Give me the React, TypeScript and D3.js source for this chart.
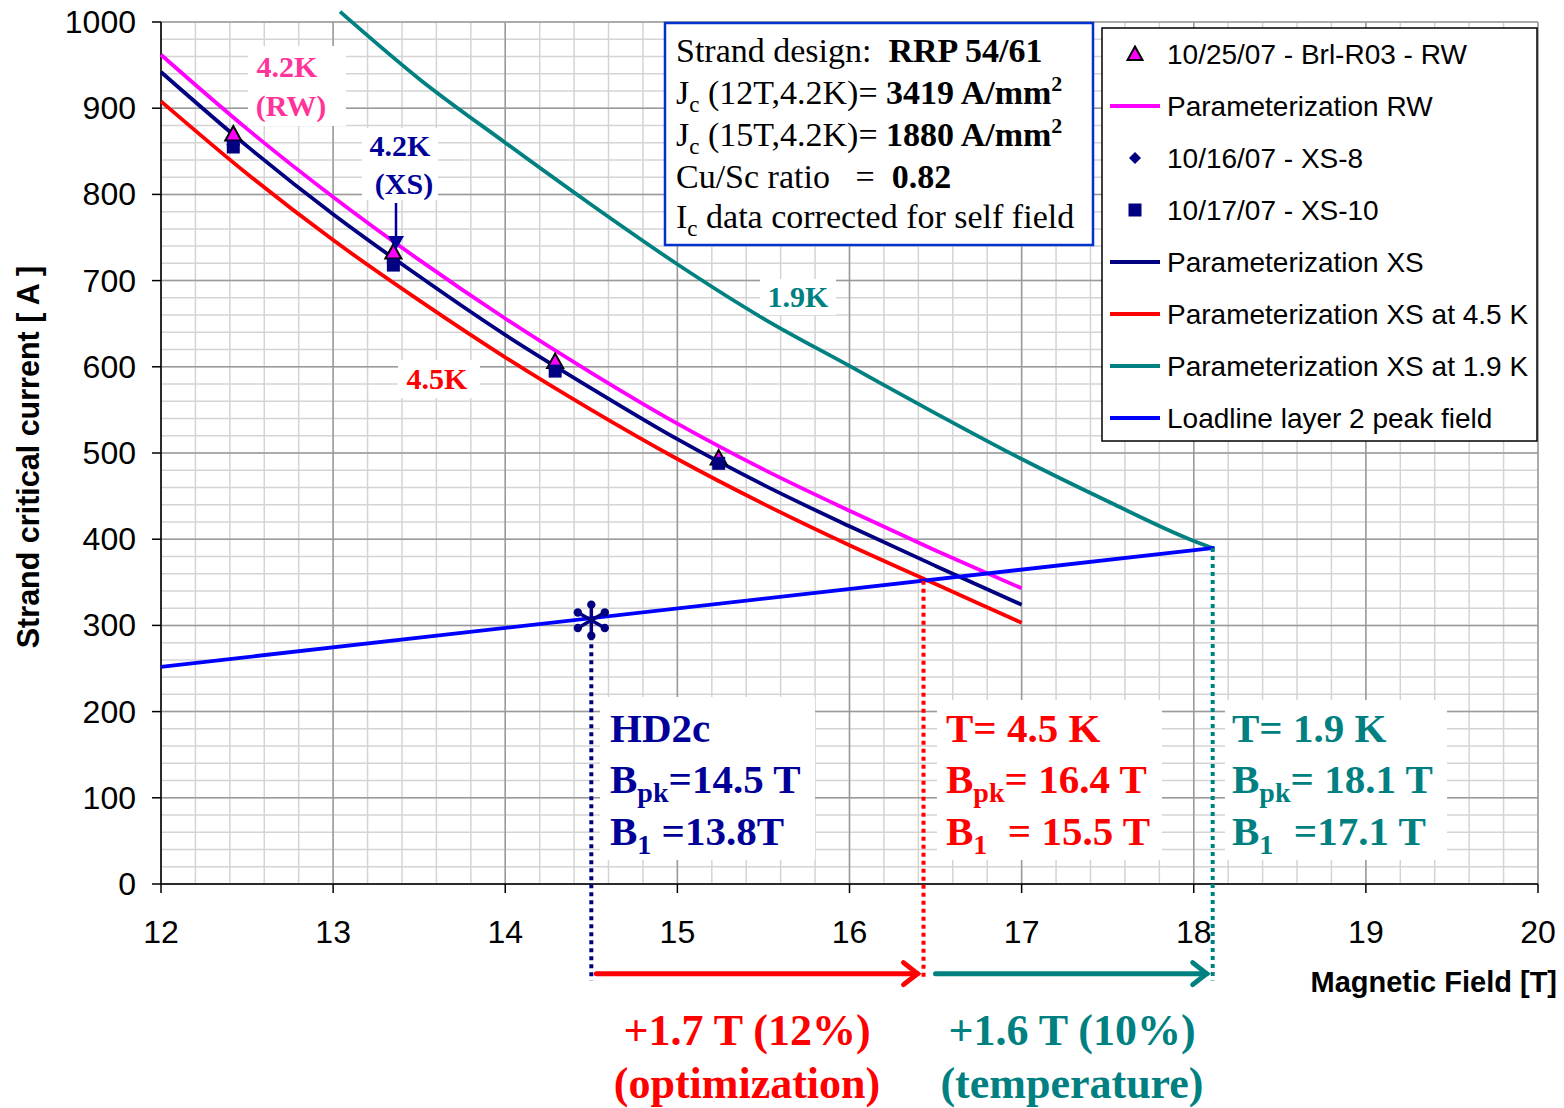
import React from 'react';
import * as d3 from 'd3';

// ---- data ----
const paramField = [12, 12.5, 13, 13.5, 14, 14.5, 15, 15.5, 16, 16.5, 17];
const paramRW = [962, 876, 797, 724, 656, 593, 534, 481, 433, 387, 343];
const paramXS = [942, 856, 777, 705, 637, 575, 516, 463, 415, 369, 324];
const paramXS45 = [908, 824, 747, 677, 611, 550, 493, 441, 393, 348, 303];
const field19 = [13.04, 13.5, 14, 14.5, 15, 15.5, 16, 16.5, 17, 17.5, 18, 18.12];
const paramXS19 = [1012, 934, 860, 788, 719, 656, 601, 546, 493, 444, 398, 389];
const loadField = [12, 18.12];
const loadIc = [252, 390];
const dataField = [12.42, 13.35, 14.29, 15.24];
const rwIc = [870, 733, 606, 494];
const xs8Ic = [858, 721, 598, 490];
const xs10Ic = [855, 718, 595, 488];
const xTicks = [12, 13, 14, 15, 16, 17, 18, 19, 20];
const yTicks = [0, 100, 200, 300, 400, 500, 600, 700, 800, 900, 1000];
const hd2cPoint = { b: 14.5, ic: 306 };
const opt45Field = 16.43;
const opt19Field = 18.11;
const legendItems = [
  { label: '10/25/07 - Brl-R03 - RW', kind: 'tri' },
  { label: 'Parameterization RW', kind: 'line', color: '#FF00FF' },
  { label: '10/16/07 - XS-8', kind: 'diamond' },
  { label: '10/17/07 - XS-10', kind: 'square' },
  { label: 'Parameterization XS', kind: 'line', color: '#000080' },
  { label: 'Parameterization XS at 4.5 K', kind: 'line', color: '#FF0000' },
  { label: 'Parameterization XS at 1.9 K', kind: 'line', color: '#008080' },
  { label: 'Loadline layer 2 peak field', kind: 'line', color: '#0000FF' },
];

const NAVY = '#000080';
const DNAVY = '#000099';
const RED = '#FF0000';
const TEAL = '#008080';
const PINK = '#FF3399';
const SANS = 'Liberation Sans, Arial, sans-serif';
const SERIF = 'Liberation Serif, Times New Roman, serif';

export default function App() {
  const x = d3.scaleLinear().domain([12, 20]).range([161, 1538]);
  const y = d3.scaleLinear().domain([0, 1000]).range([884, 22]);
  const line = d3
    .line<[number, number]>()
    .x((d) => x(d[0]))
    .y((d) => y(d[1]))
    .curve(d3.curveMonotoneX);
  const zip = (a: number[], b: number[]) => a.map((v, i) => [v, b[i]] as [number, number]);

  const minorX = d3.range(12, 20.001, 0.2);
  const minorY = d3.range(0, 1000.001, 20);

  const tri = (cx: number, cy: number, s = 8) =>
    `M${cx},${cy - s} L${cx + s},${cy + s * 0.8} L${cx - s},${cy + s * 0.8} Z`;

  const loadAt = (b: number) => loadIc[0] + ((b - loadField[0]) * (loadIc[1] - loadIc[0])) / (loadField[1] - loadField[0]);

  const starX = x(hd2cPoint.b);
  const starY = y(hd2cPoint.ic);
  const arrowY = y(-104);
  const dotBottom = y(-112);

  const Star = () => {
    const r = 19;
    const angles = [90, 30, -30];
    return (
      <g>
        {angles.map((a) => {
          const dx = r * Math.cos((a * Math.PI) / 180);
          const dy = r * Math.sin((a * Math.PI) / 180);
          return (
            <g key={a}>
              <line x1={starX - dx} y1={starY - dy} x2={starX + dx} y2={starY + dy} stroke={NAVY} strokeWidth={3.5} />
              <circle cx={starX - dx * 0.82} cy={starY - dy * 0.82} r={4.2} fill={NAVY} />
              <circle cx={starX + dx * 0.82} cy={starY + dy * 0.82} r={4.2} fill={NAVY} />
            </g>
          );
        })}
      </g>
    );
  };

  const Arrow = ({ x1, x2, yy, color }: { x1: number; x2: number; yy: number; color: string }) => (
    <g stroke={color} strokeWidth={5} fill="none" strokeLinecap="round">
      <line x1={x1} y1={yy} x2={x2} y2={yy} />
      <polyline points={`${x2 - 14},${yy - 11} ${x2},${yy} ${x2 - 14},${yy + 11}`} />
    </g>
  );

  const legendX = 1102;
  const legendY = 28;

  return (
    <svg width={1564} height={1108} style={{ position: 'absolute', left: 0, top: 0 }} xmlns="http://www.w3.org/2000/svg">
      <rect x={0} y={0} width={1564} height={1108} fill="#fff" />
      {/* grid */}
      {minorX.map((v, i) => (
        <line key={'gx' + i} x1={x(v)} x2={x(v)} y1={y(1000)} y2={y(0)} stroke="#D4D4D4" strokeWidth={1.5} />
      ))}
      {minorY.map((v, i) => (
        <line key={'gy' + i} x1={x(12)} x2={x(20)} y1={y(v)} y2={y(v)} stroke="#D4D4D4" strokeWidth={1.5} />
      ))}
      {xTicks.map((v) => (
        <line key={'Gx' + v} x1={x(v)} x2={x(v)} y1={y(1000)} y2={y(0)} stroke="#9A9A9A" strokeWidth={1.5} />
      ))}
      {yTicks.map((v) => (
        <line key={'Gy' + v} x1={x(12)} x2={x(20)} y1={y(v)} y2={y(v)} stroke="#9A9A9A" strokeWidth={1.5} />
      ))}

      {/* axes */}
      <line x1={x(12)} x2={x(20)} y1={y(0)} y2={y(0)} stroke="#000" strokeWidth={1.5} />
      <line x1={x(12)} x2={x(12)} y1={y(0)} y2={y(1000)} stroke="#000" strokeWidth={1.5} />
      {xTicks.map((v) => (
        <g key={'xt' + v}>
          <line x1={x(v)} x2={x(v)} y1={y(0)} y2={y(0) + 9} stroke="#000" strokeWidth={1.5} />
          <text x={x(v)} y={943} fontSize={32} fontFamily={SANS} textAnchor="middle">{v}</text>
        </g>
      ))}
      {yTicks.map((v) => (
        <g key={'yt' + v}>
          <line x1={x(12) - 9} x2={x(12)} y1={y(v)} y2={y(v)} stroke="#000" strokeWidth={1.5} />
          <text x={136} y={y(v) + 11} fontSize={32} fontFamily={SANS} textAnchor="end">{v}</text>
        </g>
      ))}
      <text transform="translate(39,457) rotate(-90)" fontSize={30.5} fontWeight="bold" fontFamily={SANS} textAnchor="middle">
        Strand critical current [ A ]
      </text>
      <text x={1557} y={992} fontSize={29} fontWeight="bold" fontFamily={SANS} textAnchor="end">Magnetic Field [T]</text>

      {/* curves */}
      <path d={line(zip(field19, paramXS19)) || ''} fill="none" stroke={TEAL} strokeWidth={3.8} />
      <path d={line(zip(paramField, paramXS45)) || ''} fill="none" stroke={RED} strokeWidth={3.8} />
      <path d={line(zip(paramField, paramXS)) || ''} fill="none" stroke={NAVY} strokeWidth={3.8} />
      <path d={line(zip(paramField, paramRW)) || ''} fill="none" stroke="#FF00FF" strokeWidth={3.8} />
      <path d={line(zip(loadField, loadIc)) || ''} fill="none" stroke="#0000FF" strokeWidth={3.8} />

      {/* data points */}
      {dataField.map((b, i) => (
        <path key={'d8' + i} d={`M${x(b)},${y(xs8Ic[i]) - 7} l7,7 l-7,7 l-7,-7 Z`} fill={NAVY} />
      ))}
      {dataField.map((b, i) => (
        <path key={'tr' + i} d={tri(x(b), y(rwIc[i]))} fill="#FF00FF" stroke="#000" strokeWidth={2} />
      ))}
      {dataField.map((b, i) => (
        <rect key={'sq' + i} x={x(b) - 6.5} y={y(xs10Ic[i]) - 6.5} width={13} height={13} fill={NAVY} />
      ))}

      {/* dotted verticals */}
      <line x1={starX} x2={starX} y1={starY + 16} y2={dotBottom} stroke={NAVY} strokeWidth={4} strokeDasharray="4 4" />
      <line x1={x(opt45Field)} x2={x(opt45Field)} y1={y(loadAt(opt45Field))} y2={dotBottom} stroke={RED} strokeWidth={4} strokeDasharray="4 4" />
      <line x1={x(opt19Field)} x2={x(opt19Field)} y1={y(loadAt(opt19Field))} y2={dotBottom} stroke={TEAL} strokeWidth={4} strokeDasharray="4 4" />
      <Star />

      {/* arrows */}
      <Arrow x1={starX + 5} x2={x(opt45Field) - 6} yy={arrowY} color={RED} />
      <Arrow x1={x(opt45Field) + 12} x2={x(opt19Field) - 6} yy={arrowY} color={TEAL} />

      {/* curve labels */}
      <rect x={248} y={46} width={98} height={80} fill="#fff" />
      <text x={287} y={77} fontSize={30} fontWeight="bold" fontFamily={SERIF} fill={PINK} textAnchor="middle">4.2K</text>
      <text x={291} y={116} fontSize={30} fontWeight="bold" fontFamily={SERIF} fill={PINK} textAnchor="middle">(RW)</text>

      <rect x={362} y={128} width={76} height={72} fill="#fff" />
      <text x={400} y={156} fontSize={30} fontWeight="bold" fontFamily={SERIF} fill={DNAVY} textAnchor="middle">4.2K</text>
      <text x={404} y={194} fontSize={30} fontWeight="bold" fontFamily={SERIF} fill={DNAVY} textAnchor="middle">(XS)</text>
      <line x1={396} x2={396} y1={203} y2={238} stroke={DNAVY} strokeWidth={2.5} />
      <path d="M388,236 L404,236 L396,250 Z" fill={DNAVY} />

      <rect x={398} y={360} width={82} height={38} fill="#fff" />
      <text x={437} y={389} fontSize={30} fontWeight="bold" fontFamily={SERIF} fill={RED} textAnchor="middle">4.5K</text>

      <rect x={760} y={279} width={76} height={36} fill="#fff" />
      <text x={798} y={307} fontSize={30} fontWeight="bold" fontFamily={SERIF} fill={TEAL} textAnchor="middle">1.9K</text>

      {/* info box */}
      <rect x={665} y={23} width={428} height={222} fill="#fff" stroke="#0033CC" strokeWidth={2.5} />
      <g fontFamily={SERIF} fontSize={34} fill="#000">
        <text x={676} y={62}>
          Strand design:{'\u00A0\u00A0'}<tspan fontWeight="bold">RRP 54/61</tspan>
        </text>
        <text x={676} y={104}>
          J<tspan fontSize={23} dy={8}>c</tspan>
          <tspan dy={-8}> (12T,4.2K)= </tspan>
          <tspan fontWeight="bold">3419 A/mm</tspan>
          <tspan fontWeight="bold" fontSize={22} dy={-13}>2</tspan>
        </text>
        <text x={676} y={146}>
          J<tspan fontSize={23} dy={8}>c</tspan>
          <tspan dy={-8}> (15T,4.2K)= </tspan>
          <tspan fontWeight="bold">1880 A/mm</tspan>
          <tspan fontWeight="bold" fontSize={22} dy={-13}>2</tspan>
        </text>
        <text x={676} y={188}>
          Cu/Sc ratio{'\u00A0\u00A0\u00A0'}={'\u00A0\u00A0'}<tspan fontWeight="bold">0.82</tspan>
        </text>
        <text x={676} y={228}>
          I<tspan fontSize={23} dy={8}>c</tspan>
          <tspan dy={-8}> data corrected for self field</tspan>
        </text>
      </g>

      {/* legend */}
      <rect x={legendX} y={legendY} width={435} height={413} fill="#fff" stroke="#000" strokeWidth={1.5} />
      {legendItems.map((it, i) => {
        const cy = legendY + 26 + i * 52;
        return (
          <g key={'lg' + i}>
            {it.kind === 'line' && <line x1={1110} x2={1160} y1={cy} y2={cy} stroke={it.color} strokeWidth={4} />}
            {it.kind === 'tri' && <path d={tri(1135, cy, 7.5)} fill="#FF00FF" stroke="#000" strokeWidth={2} />}
            {it.kind === 'diamond' && <path d={`M1135,${cy - 6} l6,6 l-6,6 l-6,-6 Z`} fill={NAVY} />}
            {it.kind === 'square' && <rect x={1128.5} y={cy - 6.5} width={13} height={13} fill={NAVY} />}
            <text x={1167} y={cy + 10} fontSize={28} fontFamily={SANS}>{it.label}</text>
          </g>
        );
      })}

      {/* result blocks */}
      <rect x={600} y={697} width={215} height={163} fill="#fff" />
      <g fontFamily={SERIF} fontWeight="bold" fontSize={41} fill={DNAVY}>
        <text x={610} y={742}>HD2c</text>
        <text x={610} y={793}>B<tspan fontSize={28} dy={9}>pk</tspan><tspan dy={-9}>=14.5 T</tspan></text>
        <text x={610} y={845}>B<tspan fontSize={28} dy={9}>1</tspan><tspan dy={-9}>{'\u00A0'}=13.8T</tspan></text>
      </g>
      <rect x={937} y={700} width={225} height={160} fill="#fff" />
      <g fontFamily={SERIF} fontWeight="bold" fontSize={41} fill={RED}>
        <text x={946} y={742}>T= 4.5 K</text>
        <text x={946} y={793}>B<tspan fontSize={28} dy={9}>pk</tspan><tspan dy={-9}>= 16.4 T</tspan></text>
        <text x={946} y={845}>B<tspan fontSize={28} dy={9}>1</tspan><tspan dy={-9}>{'\u00A0\u00A0'}= 15.5 T</tspan></text>
      </g>
      <rect x={1225} y={700} width={222} height={160} fill="#fff" />
      <g fontFamily={SERIF} fontWeight="bold" fontSize={41} fill={TEAL}>
        <text x={1232} y={742}>T= 1.9 K</text>
        <text x={1232} y={793}>B<tspan fontSize={28} dy={9}>pk</tspan><tspan dy={-9}>= 18.1 T</tspan></text>
        <text x={1232} y={845}>B<tspan fontSize={28} dy={9}>1</tspan><tspan dy={-9}>{'\u00A0\u00A0'}=17.1 T</tspan></text>
      </g>

      {/* gain texts */}
      <g fontFamily={SERIF} fontWeight="bold" fontSize={44} textAnchor="middle">
        <text x={747} y={1045} fill={RED}>+1.7 T (12%)</text>
        <text x={747} y={1098} fill={RED}>(optimization)</text>
        <text x={1072} y={1045} fill={TEAL}>+1.6 T (10%)</text>
        <text x={1072} y={1098} fill={TEAL}>(temperature)</text>
      </g>
    </svg>
  );
}
